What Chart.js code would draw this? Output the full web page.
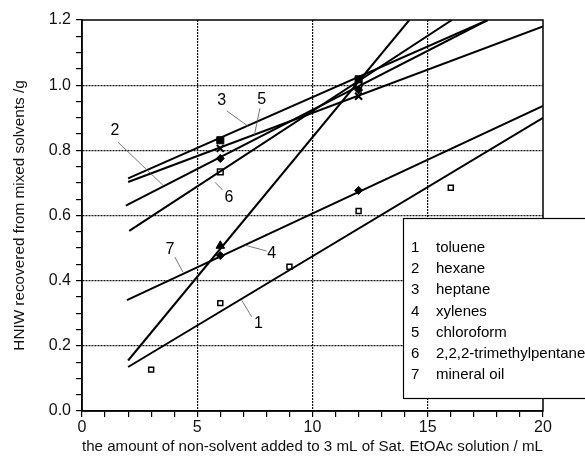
<!DOCTYPE html>
<html>
<head>
<meta charset="utf-8">
<script src="https://cdn.jsdelivr.net/npm/chart.js@4.4.0/dist/chart.umd.min.js"></script>
<style>
  html, body { margin: 0; padding: 0; background: #fff; }
</style>
</head>
<body>
<canvas id="graph" width="585" height="456"></canvas>
<script>
// solvents, in legend order
const solvents = ['toluene', 'hexane', 'heptane', 'xylenes', 'chloroform', '2,2,2-trimethylpentane', 'mineral oil'];

// measured points
const tolueneX = [3, 6, 9, 12, 16];
const tolueneY = [0.127, 0.331, 0.443, 0.614, 0.685];
const pairX = [6, 12];
const hexaneY = [0.775, 0.985];
const heptaneY = [0.831, 1.018];
const xylenesY = [0.477, 0.677];
const chloroformY = [0.806, 0.966];
const tmpY = [0.734, 1.0];
const mineralY = [0.507, 1.005];

// fitted lines (start / end), same order as solvents
const lineStartX = [2, 1.9, 2, 1.95, 2, 2.05, 2];
const lineStartY = [0.135, 0.63, 0.714, 0.34, 0.703, 0.553, 0.155];
const lineEndX = [20, 17.6, 17.6, 20, 20, 16.05, 14.2];
const lineEndY = [0.90, 1.2, 1.2, 0.936, 1.18, 1.2, 1.2];

const xTicksMajor = [0, 5, 10, 15, 20];
const yTicksMajor = [0, 0.2, 0.4, 0.6, 0.8, 1.0, 1.2];

// number labels with leader lines (data units)
const callouts = [
  { text: '3', tx: 6.06, ty: 0.952, from: [6.28, 0.921], to: [7.21, 0.874] },
  { text: '5', tx: 7.80, ty: 0.955, from: [7.72, 0.929], to: [7.48, 0.847] },
  { text: '2', tx: 1.43, ty: 0.862, from: [1.56, 0.825], to: [3.51, 0.693] },
  { text: '6', tx: 6.38, ty: 0.656, from: [5.77, 0.702], to: [6.10, 0.678] },
  { text: '7', tx: 3.82, ty: 0.494, from: [4.03, 0.472], to: [4.38, 0.426] },
  { text: '4', tx: 8.23, ty: 0.483, from: [8.01, 0.491], to: [7.07, 0.509] },
  { text: '1', tx: 7.65, ty: 0.268, from: [7.36, 0.289], to: [6.93, 0.340] }
];

const FONT = '"Liberation Sans", Arial, sans-serif';

function pts(xs, ys) {
  return xs.map((x, i) => ({ x: x, y: ys[i] }));
}

const isMajor = (v, step) => Math.abs(v / step - Math.round(v / step)) < 1e-6;

const datasets = [];
solvents.forEach((s, i) => {
  datasets.push({
    label: s + ' fit',
    data: [{ x: lineStartX[i], y: lineStartY[i] }, { x: lineEndX[i], y: lineEndY[i] }],
    showLine: true,
    borderColor: '#000',
    borderWidth: 2,
    pointRadius: 0
  });
});

function markers(data, style, radius, fill, bw) {
  return {
    data: data,
    showLine: false,
    pointStyle: style,
    pointRadius: radius,
    pointBackgroundColor: fill,
    pointBorderColor: '#000',
    pointBorderWidth: bw
  };
}

datasets.push(markers(pts(tolueneX, tolueneY), 'rect', 3.5, '#fff', 1.5));
datasets.push(markers(pts(tolueneX, tolueneY), 'circle', 0.8, '#000', 0.5));
datasets.push(markers(pts(pairX, hexaneY), 'rectRot', 4, '#000', 1));
datasets.push(markers(pts(pairX, heptaneY), 'rect', 5, '#000', 1));
datasets.push(markers(pts(pairX, xylenesY), 'rectRot', 4, '#000', 1));
datasets.push(markers(pts(pairX, chloroformY), 'crossRot', 5, '#000', 2));
datasets.push(markers(pts(pairX, tmpY), 'rect', 4, '#fff', 1.5));
datasets.push(markers(pts(pairX, mineralY), 'triangle', 5, '#000', 1));

const frame = {
  id: 'frame',
  afterDatasetsDraw(chart) {
    const { ctx, chartArea: a, scales } = chart;
    ctx.save();
    ctx.strokeStyle = '#000';
    ctx.lineWidth = 1.5;
    ctx.strokeRect(a.left, a.top, a.right - a.left, a.bottom - a.top);

    // callouts
    ctx.fillStyle = '#000';
    ctx.font = '16px ' + FONT;
    ctx.textAlign = 'center';
    ctx.textBaseline = 'middle';
    callouts.forEach(c => {
      ctx.strokeStyle = '#555';
      ctx.lineWidth = 0.8;
      ctx.beginPath();
      ctx.moveTo(scales.x.getPixelForValue(c.from[0]), scales.y.getPixelForValue(c.from[1]));
      ctx.lineTo(scales.x.getPixelForValue(c.to[0]), scales.y.getPixelForValue(c.to[1]));
      ctx.stroke();
      ctx.fillText(c.text, scales.x.getPixelForValue(c.tx), scales.y.getPixelForValue(c.ty));
    });
    ctx.restore();
  },
  afterDraw(chart) {
    const ctx = chart.ctx;
    ctx.save();
    // legend box
    ctx.fillStyle = '#fff';
    ctx.fillRect(403, 218, 200, 180);
    ctx.strokeStyle = '#000';
    ctx.lineWidth = 1.2;
    ctx.strokeRect(403.5, 218.5, 200, 180);
    ctx.fillStyle = '#000';
    ctx.font = '15px ' + FONT;
    ctx.textBaseline = 'middle';
    solvents.forEach((s, i) => {
      const y = 247.5 + i * 21.3;
      ctx.textAlign = 'left';
      ctx.fillText(String(i + 1), 411, y);
      ctx.fillText(s, 436, y);
    });
    ctx.restore();
  }
};

new Chart(document.getElementById('graph'), {
  type: 'scatter',
  data: { datasets: datasets },
  options: {
    responsive: false,
    animation: false,
    devicePixelRatio: 1,
    layout: { padding: { left: 0, right: 42, top: 20, bottom: 0 } },
    plugins: { legend: { display: false }, tooltip: { enabled: false } },
    scales: {
      x: {
        type: 'linear',
        min: 0,
        max: 20,
        afterFit: s => { s.height = 45; },
        afterBuildTicks: s => { s.ticks = Array.from({ length: 21 }, (_, i) => ({ value: i })); },
        ticks: {
          autoSkip: false,
          maxRotation: 0,
          padding: 1,
          color: '#111',
          font: { family: FONT, size: 16 },
          callback: v => (xTicksMajor.includes(v) ? String(v) : '')
        },
        grid: {
          color: c => (c.tick && isMajor(c.tick.value, 5) && c.tick.value > 0 && c.tick.value < 20 ? '#111' : 'rgba(0,0,0,0)'),
          tickColor: '#000',
          lineWidth: 1.2,
          tickLength: 6
        },
        border: { display: true, color: '#000', width: 1.5, dash: [2, 1] },
        title: {
          display: true,
          text: 'the amount of non-solvent added to 3 mL of Sat. EtOAc solution / mL',
          color: '#111',
          font: { family: FONT, size: 15.3 },
          padding: { top: 1, bottom: 0 }
        }
      },
      y: {
        type: 'linear',
        min: 0,
        max: 1.2,
        afterFit: s => { s.width = 82; },
        afterBuildTicks: s => { s.ticks = Array.from({ length: 25 }, (_, i) => ({ value: i * 0.05 })); },
        ticks: {
          autoSkip: false,
          padding: 5,
          color: '#111',
          font: { family: FONT, size: 16 },
          callback: v => (yTicksMajor.some(t => Math.abs(t - v) < 1e-6) ? v.toFixed(1) : '')
        },
        grid: {
          color: c => (c.tick && isMajor(c.tick.value, 0.2) && c.tick.value > 0.01 && c.tick.value < 1.19 ? '#111' : 'rgba(0,0,0,0)'),
          tickColor: '#000',
          lineWidth: 1.2,
          tickLength: 6
        },
        border: { display: true, color: '#000', width: 1.5, dash: [2, 1] },
        title: {
          display: true,
          text: 'HNIW recovered from mixed solvents /g',
          color: '#111',
          font: { family: FONT, size: 15.3 },
          padding: { top: 11, bottom: 0 }
        }
      }
    }
  },
  plugins: [frame]
});
</script>
</body>
</html>
